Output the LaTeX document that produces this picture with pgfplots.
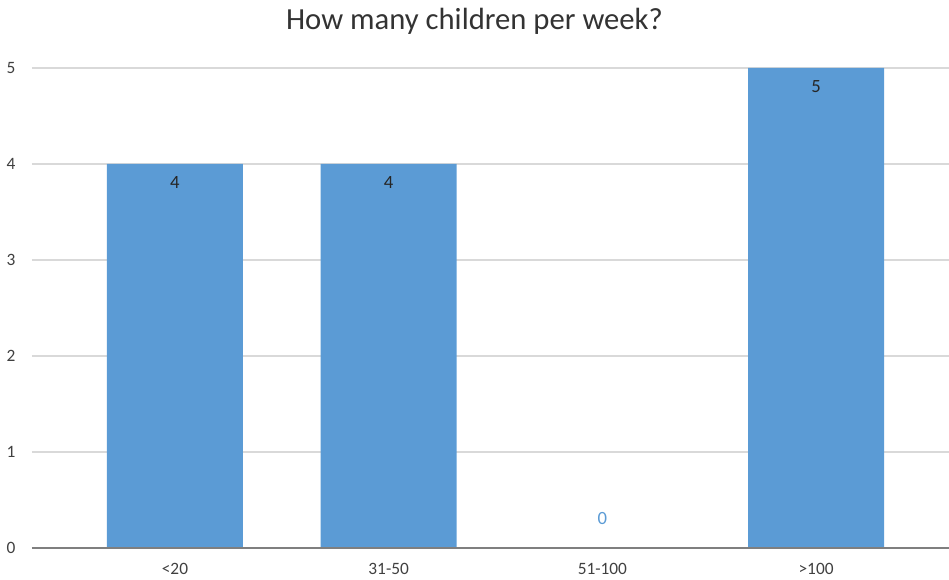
\documentclass[border=0pt]{standalone}
\usepackage{pgfplots}
\pgfplotsset{compat=1.18}
\usepackage{fontspec}
\setmainfont{Carlito}
\usetikzlibrary{calc}
\definecolor{barblue}{HTML}{5B9BD5}
\definecolor{gridgray}{HTML}{D9D9D9}
\definecolor{axgray}{HTML}{7F7F7F}
\begin{document}
\begin{tikzpicture}[x=0.75pt,y=0.75pt]
\begin{axis}[
  name=a,
  scale only axis,
  width=687.75pt, height=360pt,
  xmin=-0.669, xmax=3.622,
  ymin=0, ymax=5,
  axis line style={draw=none},
  ytick={0,1,2,3,4,5},
  xtick={0,1,2,3},
  xticklabels={{<20},{31-50},{51-100},{>100}},
  tick style={draw=none},
  ymajorgrids,
  grid style={gridgray, line width=1.5pt},
  /pgf/number format/assume math mode=true,
  ticklabel style={font=\fontsize{13}{15}\selectfont, text=black!75},
  yticklabel style={xshift=-9pt},
  xticklabel style={yshift=-4pt},
  ybar, bar width=102pt, bar shift=0pt,
  clip=false,
]
\addplot[fill=barblue, draw=none,
  nodes near coords,
  nodes near coords style={anchor=north, yshift=-6pt, font=\fontsize{14}{16}\selectfont, text=black!85}]
  coordinates {(0,4) (1,4) (3,5)};
\addplot[draw=none, fill=none,
  nodes near coords,
  nodes near coords style={anchor=south, yshift=14pt, font=\fontsize{14}{16}\selectfont, text=barblue}]
  coordinates {(2,0)};
\draw[axgray, line width=1.8pt] (axis cs:-0.669,0) -- (axis cs:3.622,0);
\end{axis}
\pgfresetboundingbox
\path[use as bounding box] ($(a.south west)+(-24pt,-24pt)$) rectangle ($(a.north east)+(0,51pt)$);
\node[font=\fontsize{23}{27}\selectfont, text=black!80] at ($(a.north)+(-12pt,35pt)$) {How many children per week?};
\end{tikzpicture}
\end{document}
